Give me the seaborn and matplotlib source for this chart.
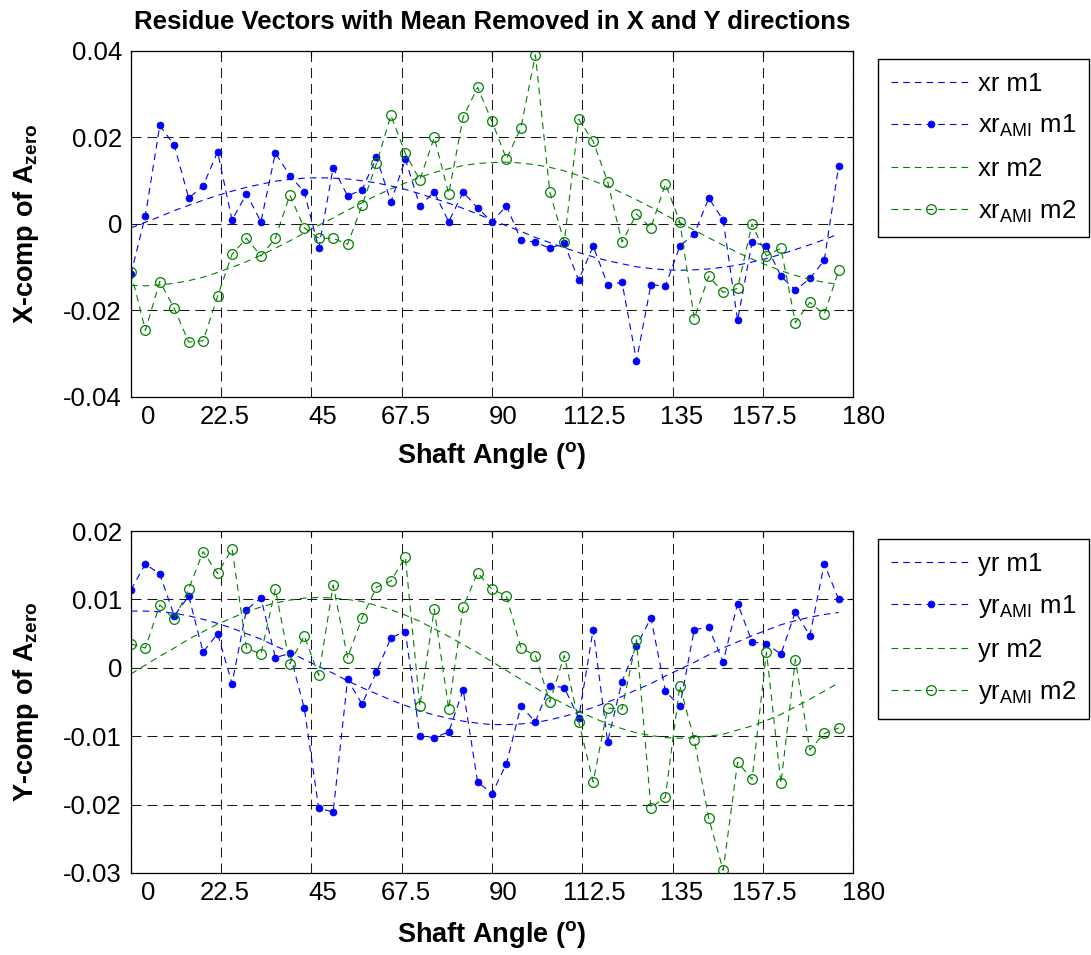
import matplotlib
matplotlib.use('Agg')
import numpy as np
import pandas as pd
import seaborn as sns
from matplotlib import pyplot as plt
import matplotlib.transforms as mtransforms

# shaft angle samples (degrees)
angles = [0.0, 3.6, 7.2, 10.8, 14.4, 18.0, 21.6, 25.2, 28.8, 32.4,
          36.0, 39.6, 43.2, 46.8, 50.4, 54.0, 57.6, 61.2, 64.8, 68.4,
          72.0, 75.6, 79.2, 82.8, 86.4, 90.0, 93.6, 97.2, 100.8, 104.4,
          108.0, 111.6, 115.2, 118.8, 122.4, 126.0, 129.6, 133.2, 136.8, 140.4,
          144.0, 147.6, 151.2, 154.8, 158.4, 162.0, 165.6, 169.2, 172.8, 176.4]

# X direction
xr_m1 = [-0.0009, 0.0004, 0.0017, 0.0031, 0.0043, 0.0055, 0.0066, 0.0076, 0.0085, 0.0092,
         0.0099, 0.0103, 0.0106, 0.0107, 0.0106, 0.0104, 0.0100, 0.0095, 0.0088, 0.0080,
         0.0070, 0.0059, 0.0048, 0.0036, 0.0023, 0.0009, -0.0004, -0.0017, -0.0031, -0.0043,
         -0.0055, -0.0066, -0.0076, -0.0085, -0.0092, -0.0099, -0.0103, -0.0106, -0.0107, -0.0106,
         -0.0104, -0.0100, -0.0095, -0.0088, -0.0080, -0.0070, -0.0059, -0.0048, -0.0036, -0.0023]
xr_ami_m1 = [-0.0116, 0.0019, 0.0228, 0.0182, 0.0060, 0.0088, 0.0167, 0.0009, 0.0070, 0.0005,
             0.0164, 0.0112, 0.0074, -0.0056, 0.0130, 0.0065, 0.0079, 0.0154, 0.0051, 0.0150,
             0.0042, 0.0074, 0.0005, 0.0074, 0.0037, 0.0005, 0.0042, -0.0037, -0.0042, -0.0056,
             -0.0045, -0.0130, -0.0051, -0.0140, -0.0135, -0.0316, -0.0140, -0.0144, -0.0051, -0.0023,
             0.0060, 0.0009, -0.0223, -0.0042, -0.0051, -0.0121, -0.0153, -0.0126, -0.0084, 0.0135]
xr_m2 = [-0.0142, -0.0143, -0.0141, -0.0137, -0.0131, -0.0123, -0.0112, -0.0100, -0.0087, -0.0072,
         -0.0056, -0.0039, -0.0021, -0.0003, 0.0014, 0.0032, 0.0049, 0.0066, 0.0081, 0.0095,
         0.0108, 0.0119, 0.0128, 0.0135, 0.0140, 0.0142, 0.0143, 0.0141, 0.0137, 0.0131,
         0.0123, 0.0112, 0.0100, 0.0087, 0.0072, 0.0056, 0.0039, 0.0021, 0.0003, -0.0014,
         -0.0032, -0.0049, -0.0066, -0.0081, -0.0095, -0.0108, -0.0119, -0.0128, -0.0135, -0.0140]
xr_ami_m2 = [-0.0112, -0.0246, -0.0133, -0.0195, -0.0273, -0.0270, -0.0167, -0.0070, -0.0033, -0.0074,
             -0.0033, 0.0067, -0.0009, -0.0033, -0.0033, -0.0047, 0.0043, 0.0140, 0.0251, 0.0163,
             0.0102, 0.0200, 0.0070, 0.0247, 0.0316, 0.0237, 0.0150, 0.0223, 0.0391, 0.0074,
             -0.0042, 0.0242, 0.0191, 0.0098, -0.0042, 0.0023, -0.0009, 0.0093, 0.0005, -0.0219,
             -0.0121, -0.0158, -0.0149, 0.0000, -0.0074, -0.0056, -0.0228, -0.0181, -0.0209, -0.0107]

# Y direction
yr_m1 = [0.0083, 0.0083, 0.0082, 0.0080, 0.0076, 0.0071, 0.0065, 0.0058, 0.0050, 0.0042,
         0.0032, 0.0023, 0.0012, 0.0002, -0.0008, -0.0019, -0.0029, -0.0038, -0.0047, -0.0055,
         -0.0063, -0.0069, -0.0074, -0.0078, -0.0081, -0.0083, -0.0083, -0.0082, -0.0080, -0.0076,
         -0.0071, -0.0065, -0.0058, -0.0050, -0.0042, -0.0032, -0.0023, -0.0012, -0.0002, 0.0008,
         0.0019, 0.0029, 0.0038, 0.0047, 0.0055, 0.0063, 0.0069, 0.0074, 0.0078, 0.0081]
yr_ami_m1 = [0.0114, 0.0152, 0.0137, 0.0076, 0.0105, 0.0023, 0.0050, -0.0023, 0.0085, 0.0102,
             0.0015, 0.0021, -0.0059, -0.0205, -0.0211, -0.0017, -0.0053, -0.0006, 0.0044, 0.0053,
             -0.0100, -0.0102, -0.0094, -0.0032, -0.0167, -0.0184, -0.0140, -0.0056, -0.0079, -0.0026,
             -0.0029, -0.0073, 0.0056, -0.0108, -0.0020, 0.0032, 0.0073, -0.0034, -0.0056, 0.0056,
             0.0059, 0.0009, 0.0094, 0.0038, 0.0035, 0.0020, 0.0082, 0.0047, 0.0152, 0.0100]
yr_m2 = [-0.0009, 0.0004, 0.0017, 0.0029, 0.0042, 0.0053, 0.0064, 0.0073, 0.0082, 0.0089,
         0.0095, 0.0099, 0.0102, 0.0103, 0.0102, 0.0100, 0.0097, 0.0091, 0.0085, 0.0077,
         0.0068, 0.0057, 0.0046, 0.0034, 0.0022, 0.0009, -0.0004, -0.0017, -0.0029, -0.0042,
         -0.0053, -0.0064, -0.0073, -0.0082, -0.0089, -0.0095, -0.0099, -0.0102, -0.0103, -0.0102,
         -0.0100, -0.0097, -0.0091, -0.0085, -0.0077, -0.0068, -0.0057, -0.0046, -0.0034, -0.0022]
yr_ami_m2 = [0.0035, 0.0029, 0.0092, 0.0071, 0.0115, 0.0170, 0.0138, 0.0174, 0.0029, 0.0020,
             0.0115, 0.0006, 0.0047, -0.0011, 0.0121, 0.0015, 0.0073, 0.0118, 0.0127, 0.0162,
             -0.0056, 0.0086, -0.0060, 0.0089, 0.0139, 0.0115, 0.0105, 0.0029, 0.0018, -0.0050,
             0.0018, -0.0079, -0.0167, -0.0059, -0.0060, 0.0041, -0.0205, -0.0189, -0.0026, -0.0105,
             -0.0220, -0.0296, -0.0138, -0.0163, 0.0023, -0.0169, 0.0012, -0.0120, -0.0096, -0.0088]

xticks = [0, 22.5, 45, 67.5, 90, 112.5, 135, 157.5, 180]
xtick_labels = ['0', '22.5', '45', '67.5', '90', '112.5', '135', '157.5', '180']
# label shift (pixels) seen in the original export
xlabel_shift = [17, 4, 11, 4, 11, 12, 9, 1, 10]

sns.set_style('white')
plt.rcParams['font.family'] = ['Liberation Sans', 'DejaVu Sans']
plt.rcParams['mathtext.fontset'] = 'custom'
plt.rcParams['mathtext.rm'] = 'Liberation Sans'
plt.rcParams['mathtext.it'] = 'Liberation Sans:italic'
plt.rcParams['mathtext.bf'] = 'Liberation Sans:bold'
plt.rcParams['axes.unicode_minus'] = False
plt.rcParams['lines.scale_dashes'] = False
for key in ['text.color', 'axes.labelcolor', 'xtick.color', 'ytick.color', 'axes.edgecolor']:
    plt.rcParams[key] = 'black'

BLUE = (0, 0, 1)
GREEN = (0, 0.5, 0)
DASH = (0, (4.8, 3.6))

fig = plt.figure(figsize=(10.91, 9.55), dpi=100)
ax1 = fig.add_axes([0.120, 0.5843, 0.662, 0.3623])
ax2 = fig.add_axes([0.120, 0.0859, 0.662, 0.358])


def draw_panel(ax, fit1, ami1, fit2, ami2, names, yticks, ylabels, ylabel):
    df = pd.DataFrame({'angle': angles, 'fit1': fit1, 'ami1': ami1,
                       'fit2': fit2, 'ami2': ami2})
    sns.lineplot(data=df, x='angle', y='fit1', ax=ax, color=BLUE, linestyle=DASH,
                 linewidth=0.8, label=names[0])
    sns.lineplot(data=df, x='angle', y='ami1', ax=ax, color=BLUE, linestyle=DASH,
                 linewidth=0.8, marker='o', markersize=5, markerfacecolor=BLUE,
                 markeredgecolor=BLUE, markeredgewidth=0.5, label=names[1])
    sns.lineplot(data=df, x='angle', y='fit2', ax=ax, color=GREEN, linestyle=DASH,
                 linewidth=0.8, label=names[2])
    sns.lineplot(data=df, x='angle', y='ami2', ax=ax, color=GREEN, linestyle=DASH,
                 linewidth=0.8, marker='o', markersize=7, markerfacecolor='none',
                 markeredgecolor=GREEN, markeredgewidth=0.9, label=names[3])

    ax.set_xlim(0, 180)
    ax.set_ylim(yticks[0], yticks[-1])
    ax.set_xticks(xticks)
    ax.set_xticklabels(xtick_labels)
    ax.set_yticks(yticks)
    ax.set_yticklabels(ylabels)
    ax.set_axisbelow(True)
    ax.grid(True, color='0.1', linestyle=(0, (7.2, 4.3)), linewidth=0.75)
    ax.tick_params(direction='in', length=4, width=0.8, top=True, right=True,
                   labelsize=18.5, color='black', labelcolor='black')
    ax.tick_params(axis='x', pad=6)
    ax.tick_params(axis='y', pad=6.5)
    for sp in ax.spines.values():
        sp.set_color('black')
        sp.set_linewidth(0.9)

    ax.set_xlabel(r'Shaft Angle ($^{\mathbf{o}}$)', fontsize=19.5, fontweight='bold',
                  color='black')
    ax.set_ylabel(ylabel, fontsize=19.5, fontweight='bold', color='black')
    ax.yaxis.set_label_coords(-0.125, 0.5)

    for lab, dx in zip(ax.get_xticklabels(), xlabel_shift):
        lab.set_transform(lab.get_transform() +
                          mtransforms.ScaledTranslation(dx / 100, 0, fig.dpi_scale_trans))

    leg = ax.legend(loc='upper left', bbox_to_anchor=(1.0346, 0.977), fontsize=18.5,
                    frameon=True, fancybox=False, edgecolor='black', framealpha=1,
                    handlelength=3.1, handletextpad=0.3, labelspacing=0.68,
                    borderpad=0.5, borderaxespad=0, numpoints=1)
    leg.get_frame().set_linewidth(1.0)
    for t in leg.get_texts():
        t.set_color('black')


draw_panel(ax1, xr_m1, xr_ami_m1, xr_m2, xr_ami_m2,
           ['xr m1', r'xr$_{\mathrm{AMI}}$ m1', 'xr m2', r'xr$_{\mathrm{AMI}}$ m2'],
           [-0.04, -0.02, 0, 0.02, 0.04], ['-0.04', '-0.02', '0', '0.02', '0.04'],
           r'X-comp of A$_{\mathbf{zero}}$')
ax1.xaxis.set_label_coords(0.5, -0.125)
ax1.set_title('Residue Vectors with Mean Removed in X and Y directions',
              fontsize=18.5, fontweight='bold', pad=16, color='black')

draw_panel(ax2, yr_m1, yr_ami_m1, yr_m2, yr_ami_m2,
           ['yr m1', r'yr$_{\mathrm{AMI}}$ m1', 'yr m2', r'yr$_{\mathrm{AMI}}$ m2'],
           [-0.03, -0.02, -0.01, 0, 0.01, 0.02],
           ['-0.03', '-0.02', '-0.01', '0', '0.01', '0.02'],
           r'Y-comp of A$_{\mathbf{zero}}$')
ax2.xaxis.set_label_coords(0.5, -0.135)

fig.savefig('out.png', dpi=100)
